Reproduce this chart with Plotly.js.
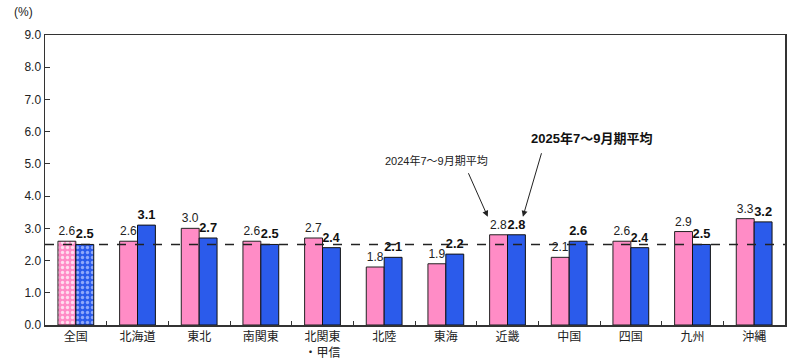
<!DOCTYPE html>
<html>
<head>
<meta charset="utf-8">
<script src="https://cdn.plot.ly/plotly-3.0.1.min.js"></script>
<style>html,body{margin:0;padding:0;background:#fff;}#chart{width:800px;height:358px;}</style>
</head>
<body>
<div id="chart"></div>
<script>
const regions = ['全国','北海道','東北','南関東','北関東<br>・甲信','北陸','東海','近畿','中国','四国','九州','沖縄'];
const avg2024 = [2.6,2.6,3.0,2.6,2.7,1.8,1.9,2.8,2.1,2.6,2.9,3.3];
const avg2025 = [2.5,3.1,2.7,2.5,2.4,2.1,2.2,2.8,2.6,2.4,2.5,3.2];
const nationalAvg = 2.5;
const label2024 = '2024年7～9月期平均';
const label2025 = '2025年7～9月期平均';

const FONT = 'Liberation Sans, Arial, Noto Sans CJK JP, sans-serif';
const PINK = '#FF8CC6', BLUE = '#2B5BEB';
const patternShapes = regions.map((r,i)=> i===0 ? '.' : '');

const traces = [
  {
    type:'bar', x:regions, y:avg2024, name:label2024,
    marker:{color:PINK, line:{color:'#222', width:1},
      pattern:{shape:patternShapes, fillmode:'overlay', fgcolor:'#ffffff', fgopacity:0.7, size:5, solidity:0.35}},
    text:avg2024.map(v=>v.toFixed(1)), textposition:'outside', cliponaxis:false,
    textfont:{family:FONT, size:12, color:'#222'}
  },
  {
    type:'bar', x:regions, y:avg2025, name:label2025,
    marker:{color:BLUE, line:{color:'#111', width:1},
      pattern:{shape:patternShapes, fillmode:'overlay', fgcolor:'#a8bcff', fgopacity:0.8, size:5, solidity:0.35}},
    text:avg2025.map(v=>'<b>'+v.toFixed(1)+'</b>'), textposition:'outside', cliponaxis:false,
    textfont:{family:FONT, size:13, color:'#111'}
  }
];

const layout = {
  width:800, height:358,
  margin:{l:45, r:15, t:35, b:33},
  paper_bgcolor:'#fff', plot_bgcolor:'#fff',
  showlegend:false,
  barmode:'group', bargap:0.42, bargroupgap:0,
  font:{family:FONT, size:12, color:'#222'},
  xaxis:{type:'category', showline:true, linecolor:'#333', linewidth:1.5, mirror:true,
    ticks:'inside', tickson:'boundaries', ticklen:4, tickcolor:'#333',
    tickfont:{family:FONT, size:12, color:'#222'}, showgrid:false, fixedrange:true},
  yaxis:{range:[0,9], dtick:1, tickformat:'.1f', showline:true, linecolor:'#333', linewidth:1.5, mirror:true,
    ticks:'inside', ticklen:5, tickcolor:'#333', showgrid:false, zeroline:false,
    tickfont:{family:FONT, size:12, color:'#222'}, fixedrange:true},
  shapes:[
    {type:'line', xref:'paper', x0:0, x1:1, yref:'y', y0:nationalAvg, y1:nationalAvg,
     line:{color:'#222', width:1.5, dash:'dash'}, layer:'above'}
  ],
  annotations:[
    {xref:'paper', yref:'paper', x:-0.045, y:1.08, xanchor:'left', yanchor:'middle',
     text:'(%)', showarrow:false, font:{family:FONT, size:12, color:'#222'}},
    {xref:'x', yref:'y', x:7-0.32, y:3.36, ax:-20, ay:-45,
     text:'', showarrow:true, arrowhead:2, arrowsize:1.2, arrowwidth:1, arrowcolor:'#222'},
    {xref:'x', yref:'y', x:7+0.25, y:3.36, ax:19, ay:-65,
     text:'', showarrow:true, arrowhead:2, arrowsize:1.2, arrowwidth:1, arrowcolor:'#222'},
    {xref:'x', yref:'y', x:7-1.15, y:5.1, text:label2024, showarrow:false,
     font:{family:FONT, size:11, color:'#222'}},
    {xref:'x', yref:'y', x:7+1.37, y:5.8, text:'<b>'+label2025+'</b>', showarrow:false,
     font:{family:FONT, size:13, color:'#111'}}
  ]
};

Plotly.newPlot('chart', traces, layout, {displayModeBar:false, staticPlot:true});
</script>
</body>
</html>
